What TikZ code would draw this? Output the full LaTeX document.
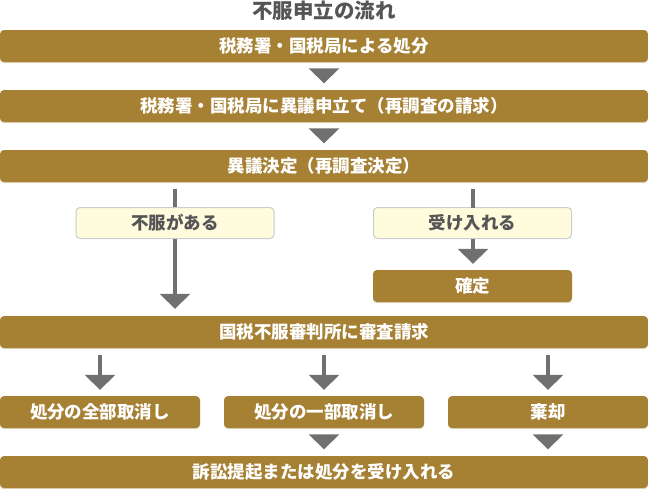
\documentclass[tikz,border=0pt]{standalone}
\usepackage{fontspec}
\setmainfont{Noto Sans CJK JP}
\usetikzlibrary{arrows.meta,shadows}
\definecolor{boxgold}{RGB}{166,128,51}
\definecolor{shadebeige}{RGB}{226,214,190}
\definecolor{noteyellow}{RGB}{255,251,221}
\definecolor{notegray}{RGB}{204,204,204}
\definecolor{textgray}{RGB}{85,85,85}
\definecolor{arrowgray}{RGB}{112,112,112}
\begin{document}
\begin{tikzpicture}[x=1pt,y=-1pt,
  goldbox/.style={fill=boxgold,rounded corners=4pt,minimum height=32pt,inner sep=0pt,text=white,
    font=\fontsize{17.5}{18}\selectfont\bfseries,
    drop shadow={shadow xshift=0pt,shadow yshift=-1.2pt,fill=shadebeige,opacity=1}},
  notebox/.style={fill=noteyellow,draw=notegray,line width=1pt,rounded corners=4pt,minimum height=31pt,
    minimum width=198pt,inner sep=0pt,text=textgray,font=\fontsize{17.5}{18}\selectfont\bfseries},
  flowline/.style={draw=arrowgray,line width=4pt},
  flow/.style={flowline,-{Triangle[width=30pt,length=15pt]}}]
\useasboundingbox (0,0) rectangle (648,488);
\node[text=textgray,font=\fontsize{20.5}{21}\selectfont\bfseries] (title) at (324,10.5) {不服申立の流れ};
% main steps
\node[goldbox,minimum width=648pt] (b1) at (324,46) {税務署・国税局による処分};
\node[goldbox,minimum width=648pt] (b2) at (324,106) {税務署・国税局に異議申立て（再調査の請求）};
\node[goldbox,minimum width=648pt] (b3) at (324,166) {異議決定（再調査決定）};
\node[notebox] (y1) at (175,223) {不服がある};
\node[notebox] (y2) at (472.5,223) {受け入れる};
\node[goldbox,minimum width=199pt] (fix) at (472.5,286) {確定};
\node[goldbox,minimum width=648pt] (b4) at (324,332) {国税不服審判所に審査請求};
\node[goldbox,minimum width=200pt] (c1) at (100,412) {処分の全部取消し};
\node[goldbox,minimum width=200pt] (c2) at (324,412) {処分の一部取消し};
\node[goldbox,minimum width=200pt] (c3) at (548,412) {棄却};
\node[goldbox,minimum width=648pt] (b6) at (324,472) {訴訟提起または処分を受け入れる};
% connectors
\draw[flow,shorten <=6.5pt,shorten >=6.5pt] (b1) -- (b2);
\draw[flow,shorten <=6.5pt,shorten >=6.5pt] (b2) -- (b3);
\draw[flowline,shorten <=7pt] (b3.south -| y1.north) -- (y1.north);
\draw[flow,shorten >=7pt] (y1.south) -- (b4.north -| y1.south);
\draw[flowline,shorten <=7pt] (b3.south -| 473,0) -- (473,207.5);
\draw[flow,shorten >=6pt] (473,238.5) -- (fix.north -| 473,0);
\draw[flow,shorten <=7pt,shorten >=6pt] (b4.south -| c1.north) -- (c1.north);
\draw[flow,shorten <=7pt,shorten >=6pt] (b4.south -| c2.north) -- (c2.north);
\draw[flow,shorten <=7pt,shorten >=6pt] (b4.south -| c3.north) -- (c3.north);
\draw[flow,shorten <=6.5pt,shorten >=6.5pt] (c2) -- (b6);
\draw[flow,shorten <=6.5pt,shorten >=6.5pt] (c3) -- (b6.north -| c3.south);
\end{tikzpicture}
\end{document}
